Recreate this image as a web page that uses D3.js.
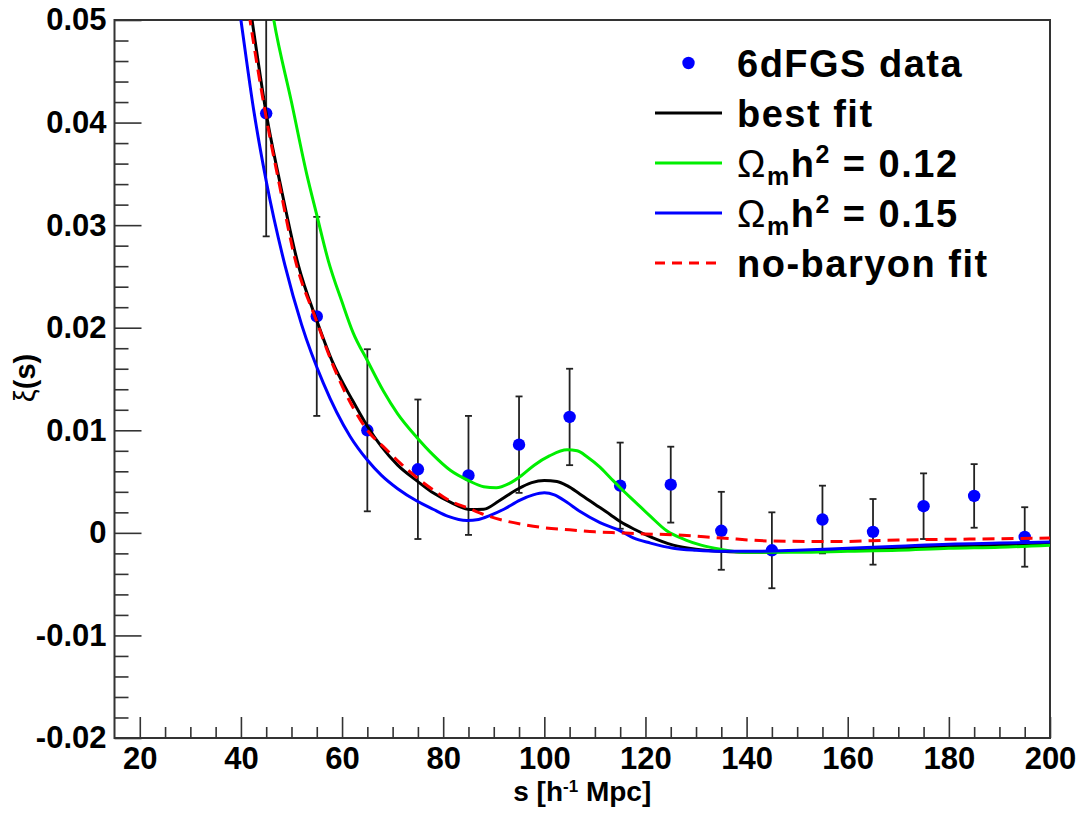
<!DOCTYPE html>
<html>
<head>
<meta charset="utf-8">
<script src="https://cdn.jsdelivr.net/npm/d3@7"></script>
<style>
  body { margin: 0; background: #fff; }
  svg { display: block; font-family: "Liberation Sans", Arial, Helvetica, sans-serif; font-weight: bold; }
</style>
</head>
<body>
<svg id="chart" width="1082" height="815"></svg>
<script>
// ---- data ----
const dataS    = [45, 55, 65, 75, 85, 95, 105, 115, 125, 135, 145, 155, 165, 175, 185, 195];
const dataXi   = [0.0409, 0.0211, 0.0100, 0.0062, 0.0056, 0.0086, 0.0113, 0.0046, 0.0047, 0.0002, -0.0017, 0.0013, 0.0001, 0.0026, 0.0036, -0.0004];
const dataErr  = [0.0120, 0.0097, 0.0079, 0.0068, 0.0058, 0.0047, 0.0047, 0.0042, 0.0037, 0.0038, 0.0037, 0.0033, 0.0032, 0.0032, 0.0031, 0.0029];

const bestS  = [40, 42.2, 45, 48, 51.35, 55, 58, 62.2, 65, 67.8, 71, 75, 78, 81.4, 85.3, 88, 91, 94.5, 97.5, 100, 102.5, 104.5, 107, 110, 113, 115, 118, 121, 125.5, 130, 135, 141, 150, 160, 170, 180, 190, 200];
const bestXi = [0.0575, 0.050, 0.0409, 0.0335, 0.0261, 0.0207, 0.0168, 0.0128, 0.0104, 0.0084, 0.0066, 0.0050, 0.0039, 0.0030, 0.00228, 0.0023, 0.0031, 0.0042, 0.0049, 0.0051, 0.0050, 0.0046, 0.0038, 0.0028, 0.0018, 0.0011, 0.0003, -0.0004, -0.0012, -0.0016, -0.0018, -0.0019, -0.0018, -0.0017, -0.0015, -0.0013, -0.0012, -0.0010];

const om12S  = [44, 46.5, 50, 53, 55, 57.3, 60, 62.2, 65, 68.2, 71, 74.8, 78, 81.4, 85, 88, 90.5, 93, 95.5, 98, 101, 104.5, 106.5, 108.5, 111, 113, 115, 118, 121, 124.2, 128, 131, 134.8, 140, 150, 160, 170, 180, 190, 200];
const om12Xi = [0.058, 0.050, 0.0420, 0.0350, 0.0310, 0.0265, 0.0225, 0.0195, 0.0168, 0.0138, 0.0116, 0.0093, 0.0076, 0.0061, 0.0051, 0.0045, 0.0044, 0.0048, 0.0056, 0.0066, 0.0075, 0.0081, 0.0080, 0.0074, 0.0064, 0.0054, 0.0044, 0.0030, 0.0016, 0.0002, -0.0007, -0.0012, -0.0016, -0.0019, -0.0019, -0.0018, -0.0017, -0.0015, -0.0014, -0.0012];

const om15S  = [38, 40, 42.5, 45, 48.7, 52, 56.3, 61.6, 65, 67.8, 71, 74.8, 78, 81, 84.7, 87, 89.3, 92, 95.2, 97.8, 100, 102, 104.4, 107, 111, 115, 117.6, 121, 125.5, 130, 135, 142, 150, 160, 170, 180, 190, 200];
const om15Xi = [0.057, 0.050, 0.0413, 0.0343, 0.0261, 0.0203, 0.0146, 0.0094, 0.0071, 0.0056, 0.0043, 0.0031, 0.0023, 0.0016, 0.0012, 0.0013, 0.0017, 0.0023, 0.0032, 0.0037, 0.0039, 0.0037, 0.0030, 0.0021, 0.0010, 0.0002, -0.0005, -0.0010, -0.0015, -0.0017, -0.0018, -0.0018, -0.0017, -0.0015, -0.0013, -0.0011, -0.0010, -0.0009];

const noBarS  = [39.5, 41.8, 45, 48, 50.7, 55, 58, 62.2, 65, 68.8, 71.5, 75, 78, 81.4, 85, 88, 92, 96, 100, 105, 110, 115, 120, 126, 135, 145, 157, 170, 185, 200];
const noBarXi = [0.058, 0.050, 0.0405, 0.0330, 0.0267, 0.0206, 0.0166, 0.0122, 0.0100, 0.0081, 0.0068, 0.0053, 0.0042, 0.0031, 0.0024, 0.0018, 0.0012, 0.0008, 0.0005, 0.0003, 0.0001, 0.0000, -0.0001, -0.0002, -0.0005, -0.0008, -0.00085, -0.0007, -0.0006, -0.0005];

const xMajorTicks = [20, 40, 60, 80, 100, 120, 140, 160, 180, 200];
const xTickLabels = ["20", "40", "60", "80", "100", "120", "140", "160", "180", "200"];
const yMajorTicks = [0.05, 0.04, 0.03, 0.02, 0.01, 0, -0.01, -0.02];
const yTickLabels = ["0.05", "0.04", "0.03", "0.02", "0.01", "0", "-0.01", "-0.02"];

const legendLabels = ["6dFGS data", "best fit", "0.12", "0.15", "no-baryon fit"];

// ---- layout ----
const L = 114.5, R = 1050, T = 20, B = 738;
const x = d3.scaleLinear().domain([15, 200]).range([L, R]);
const y = d3.scaleLinear().domain([-0.02, 0.05]).range([B, T]);

const svg = d3.select("#chart");
const frameColor = "#333";

svg.append("defs").append("clipPath").attr("id", "clip")
  .append("rect").attr("x", L).attr("y", T).attr("width", R - L).attr("height", B - T);

// minor ticks
const xMinor = d3.range(20, 201, 5).filter(v => v % 20 !== 0);
const yMinor = d3.range(-20, 51, 2).map(v => v / 1000).filter(v => Math.abs(Math.round(v * 1000)) % 10 !== 0);

const gx = svg.append("g").attr("transform", `translate(0,${B})`);
gx.call(d3.axisBottom(x).tickValues(xMinor).tickSizeInner(-11).tickSizeOuter(0).tickFormat(""));
const gx2 = svg.append("g").attr("transform", `translate(0,${B})`);
gx2.call(d3.axisBottom(x).tickValues(xMajorTicks).tickSizeInner(-21).tickSizeOuter(0).tickPadding(9)
  .tickFormat((d, i) => xTickLabels[i]));

const gy = svg.append("g").attr("transform", `translate(${L},0)`);
gy.call(d3.axisLeft(y).tickValues(yMinor).tickSizeInner(-14).tickSizeOuter(0).tickFormat(""));
const gy2 = svg.append("g").attr("transform", `translate(${L},0)`);
gy2.call(d3.axisLeft(y).tickValues(yMajorTicks).tickSizeInner(-27).tickSizeOuter(0).tickPadding(8)
  .tickFormat((d, i) => yTickLabels[i]));

svg.selectAll(".domain").remove();
svg.selectAll(".tick line").attr("stroke", frameColor).attr("stroke-width", 1.6);
svg.selectAll(".tick text").attr("font-size", 31).attr("font-weight", "bold")
  .attr("font-family", "'Liberation Sans', Arial, sans-serif").attr("fill", "#000");

// frame
svg.append("rect").attr("x", L).attr("y", T).attr("width", R - L).attr("height", B - T)
  .attr("fill", "none").attr("stroke", frameColor).attr("stroke-width", 2);

// axis titles
const xt = svg.append("text").attr("x", (L + R) / 2).attr("y", 801).attr("text-anchor", "middle")
  .attr("font-size", 28).attr("fill", "#000");
xt.append("tspan").text("s [h");
xt.append("tspan").attr("font-size", 17).attr("dy", -9).text("-1");
xt.append("tspan").attr("dy", 9).text(" Mpc]");

const yt = svg.append("text").attr("transform", "translate(35,378) rotate(-90)").attr("text-anchor", "middle")
  .attr("font-size", 29).attr("fill", "#000");
yt.append("tspan").attr("font-weight", "normal").text("ξ");
yt.append("tspan").text("(s)");

// data points
const plot = svg.append("g").attr("clip-path", "url(#clip)");
const pts = dataS.map((s, i) => ({ s, v: dataXi[i], e: dataErr[i] }));
const eb = plot.append("g").attr("stroke", "#222").attr("stroke-width", 1.8);
pts.forEach(p => {
  eb.append("line").attr("x1", x(p.s)).attr("x2", x(p.s)).attr("y1", y(p.v + p.e)).attr("y2", y(p.v - p.e));
  [p.v + p.e, p.v - p.e].forEach(v => {
    eb.append("line").attr("x1", x(p.s) - 3.5).attr("x2", x(p.s) + 3.5).attr("y1", y(v)).attr("y2", y(v));
  });
});
plot.append("g").selectAll("circle").data(pts).join("circle")
  .attr("cx", d => x(d.s)).attr("cy", d => y(d.v)).attr("r", 6.2).attr("fill", "#0000ff");

// curves
const line = d3.line().x(d => x(d[0])).y(d => y(d[1])).curve(d3.curveMonotoneX);
const curves = [
  { s: bestS, v: bestXi, color: "#000000", dash: null },
  { s: om12S, v: om12Xi, color: "#00ee00", dash: null },
  { s: om15S, v: om15Xi, color: "#0000ff", dash: null },
  { s: noBarS, v: noBarXi, color: "#ff0000", dash: "12,7" }
];
curves.forEach(c => {
  plot.append("path").datum(c.s.map((s, i) => [s, c.v[i]]))
    .attr("d", line).attr("fill", "none").attr("stroke", c.color).attr("stroke-width", 3)
    .attr("stroke-dasharray", c.dash);
});

// legend
const lg = svg.append("g");
const rowY = [63, 113, 163, 213, 263];
const lx1 = 655, lx2 = 722, tx = 737;
lg.append("circle").attr("cx", (lx1 + lx2) / 2).attr("cy", rowY[0]).attr("r", 6.2).attr("fill", "#0000ff");
[[1, "#000000", null], [2, "#00ee00", null], [3, "#0000ff", null], [4, "#ff0000", "10,7"]].forEach(([i, col, dash]) => {
  lg.append("line").attr("x1", lx1).attr("x2", lx2).attr("y1", rowY[i]).attr("y2", rowY[i])
    .attr("stroke", col).attr("stroke-width", 3).attr("stroke-dasharray", dash);
});
const lfs = 38;
[0, 1, 4].forEach(i => {
  lg.append("text").attr("x", tx).attr("y", rowY[i] + 14).attr("font-size", lfs)
    .attr("letter-spacing", 1.5).attr("fill", "#000").text(legendLabels[i]);
});
[2, 3].forEach(i => {
  const t = lg.append("text").attr("x", tx).attr("y", rowY[i] + 14).attr("font-size", lfs)
    .attr("letter-spacing", 1.5).attr("fill", "#000");
  t.append("tspan").attr("font-weight", "normal").text("Ω");
  t.append("tspan").attr("font-size", 25).attr("dy", 8).text("m");
  t.append("tspan").attr("dy", -8).text("h");
  t.append("tspan").attr("font-size", 25).attr("dy", -14).text("2");
  t.append("tspan").attr("dy", 14).text(" = " + legendLabels[i]);
});
</script>
</body>
</html>
